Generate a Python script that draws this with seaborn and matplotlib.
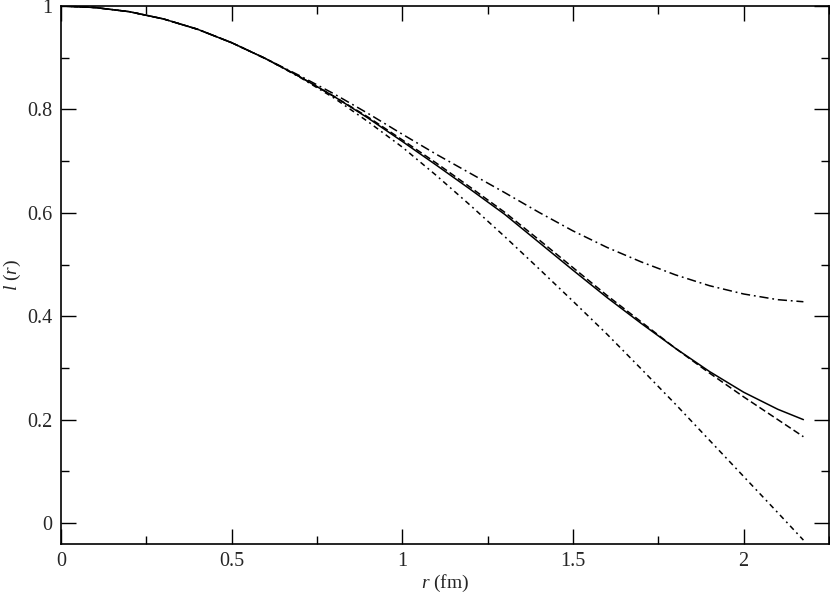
import matplotlib
matplotlib.use("Agg")
import matplotlib.pyplot as plt
import seaborn as sns
import pandas as pd
from matplotlib.ticker import MultipleLocator, FixedLocator, FixedFormatter

r_vals = [0.0, 0.1, 0.2, 0.3, 0.4, 0.5, 0.6, 0.7, 0.8, 0.9, 1.0, 1.1, 1.2,
          1.3, 1.4, 1.5, 1.6, 1.7, 1.8, 1.9, 2.0, 2.1, 2.175]
solid_vals = [1.0, 0.997, 0.989, 0.975, 0.955, 0.929, 0.898, 0.863, 0.825, 0.783,
              0.738, 0.692, 0.645, 0.597, 0.543, 0.489, 0.436, 0.386, 0.338,
              0.293, 0.253, 0.220, 0.200]
dashed_vals = [1.0, 0.997, 0.989, 0.975, 0.955, 0.929, 0.898, 0.863, 0.825, 0.785,
               0.741, 0.696, 0.649, 0.601, 0.548, 0.494, 0.440, 0.389, 0.338,
               0.290, 0.244, 0.200, 0.167]
upper_vals = [1.0, 0.997, 0.989, 0.975, 0.955, 0.929, 0.898, 0.865, 0.830, 0.792,
              0.752, 0.713, 0.676, 0.639, 0.601, 0.565, 0.533, 0.505, 0.480,
              0.459, 0.443, 0.432, 0.428]
lower_vals = [1.0, 0.997, 0.989, 0.975, 0.955, 0.929, 0.898, 0.862, 0.822, 0.776,
              0.727, 0.672, 0.614, 0.554, 0.492, 0.429, 0.365, 0.298, 0.230,
              0.160, 0.090, 0.020, -0.033]

x_ticks = [0, 0.5, 1, 1.5, 2]
x_tick_labels = ["0", "0.5", "1", "1.5", "2"]
y_ticks = [0, 0.2, 0.4, 0.6, 0.8, 1.0]
y_tick_labels = ["0", "0.2", "0.4", "0.6", "0.8", "1"]

sns.set_style("ticks")
plt.rcParams["font.family"] = ["Liberation Serif", "DejaVu Serif"]
plt.rcParams["mathtext.fontset"] = "custom"
plt.rcParams["mathtext.rm"] = "Liberation Serif"
plt.rcParams["mathtext.it"] = "Liberation Serif:italic"

fig = plt.figure(figsize=(8.30, 5.93), dpi=100)
ax = fig.add_axes([0.0735, 0.0831, 0.9253, 0.9068])

styles = [
    (solid_vals, "-"),
    (dashed_vals, (0, (4.5, 2.2))),
    (upper_vals, (0, (6, 2.5, 1.2, 2.5))),
    (lower_vals, (0, (3.5, 2.5, 1.2, 2.5))),
]
for vals, ls in styles:
    df = pd.DataFrame({"r": r_vals, "l": vals})
    sns.lineplot(data=df, x="r", y="l", ax=ax, color="black", linewidth=1.1,
                 linestyle=ls, sort=False)

ax.set_xlim(0, 2.25)
ax.set_ylim(-0.04, 1.0)
ax.xaxis.set_major_locator(FixedLocator(x_ticks))
ax.xaxis.set_major_formatter(FixedFormatter(x_tick_labels))
ax.yaxis.set_major_locator(FixedLocator(y_ticks))
ax.yaxis.set_major_formatter(FixedFormatter(y_tick_labels))
ax.xaxis.set_minor_locator(MultipleLocator(0.25))
ax.yaxis.set_minor_locator(MultipleLocator(0.1))
ax.tick_params(which="both", direction="in", top=True, right=True,
               labelsize=14.5, color="black", width=1.0)
ax.tick_params(which="major", length=11, pad=6)
ax.tick_params(which="minor", length=5.5)
for s in ax.spines.values():
    s.set_linewidth(1.2)
    s.set_color("black")

ax.set_xlabel(r"$r$ (fm)", fontsize=14, labelpad=1)
ax.set_ylabel(r"$l\ (r)$", fontsize=14, labelpad=3)

fig.savefig("out.png", dpi=100)
